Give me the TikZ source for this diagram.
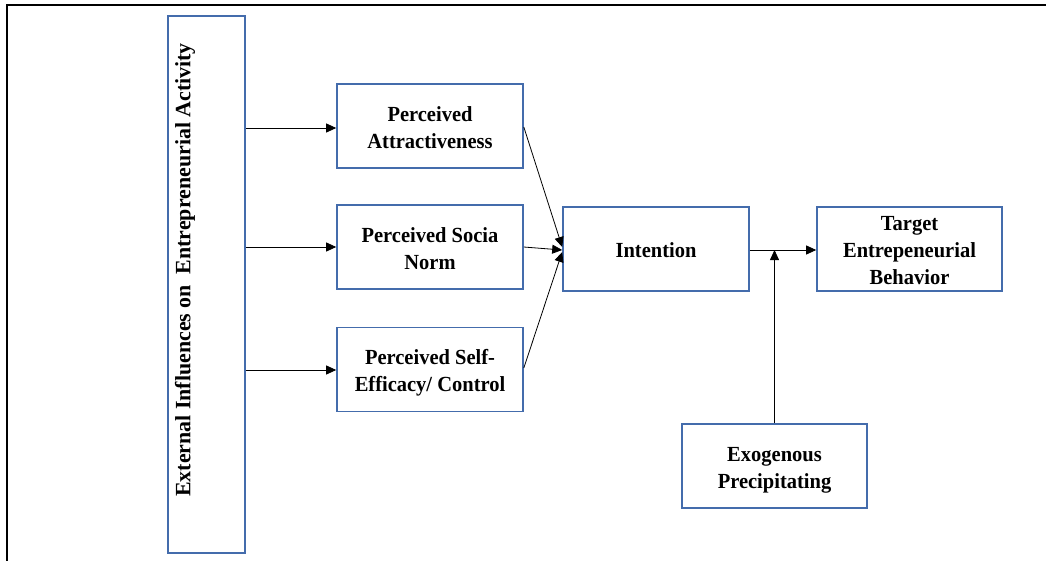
\documentclass[tikz,border=0pt]{standalone}
\usepackage{fontspec}
\usepackage{graphicx}
\setmainfont{Liberation Serif}
\usetikzlibrary{arrows.meta}
\definecolor{boxblue}{RGB}{68,108,172}
% box labels: bold serif, lines centred, slightly tall glyphs, set a little low
\newcommand{\boxtext}[1]{\raisebox{-3.5pt}[\height][\depth]{\scalebox{1}[1.05]{\begin{tabular}{@{}c@{}}#1\end{tabular}}}}
\begin{document}
\begin{tikzpicture}[x=1pt,y=-1pt,
  every node/.style={font=\fontsize{20.5}{25.7}\selectfont\bfseries},
  stepbox/.style={draw=boxblue,line width=1.6pt,fill=white,align=center,
    inner sep=0pt,minimum width=186pt,minimum height=84pt},
  arr/.style={-{Triangle[length=10pt,width=9pt]},line width=0.8pt}]
\renewcommand{\arraystretch}{1}
\useasboundingbox (0,0) rectangle (1046,560);
% outer frame (top and left edges)
\draw[line width=2pt] (7,562) -- (7,5) -- (1048,5);

% left column box with rotated title
\node[draw=boxblue,line width=1.6pt,minimum width=77pt,minimum height=537pt,inner sep=0pt]
  (ext) at (206.5,284.5) {};
\node[rotate=90,inner sep=0pt,font=\fontsize{21.9}{26}\selectfont\bfseries]
  (exttxt) at (185,270) {External Influences on\ \ Entrepreneurial Activity};

% perception boxes
\node[stepbox] (pa) at (430,126) {\boxtext{Perceived\\Attractiveness}};
\node[stepbox] (ps) at (430,247) {\boxtext{Perceived Socia\\Norm}};
\node[stepbox] (pe) at (430,369.5) {\boxtext{Perceived Self-\\Efficacy/ Control}};

% outcome boxes
\node[stepbox] (int) at (656,249) {\boxtext{Intention}};
\node[stepbox,minimum width=185pt] (tgt) at (909.5,249) {\boxtext{Target\\Entrepeneurial\\Behavior}};
\node[stepbox,minimum width=185pt] (exo) at (774.5,466) {\boxtext{Exogenous\\Precipitating}};

% connectors
\draw[arr] (ext.east |- 0,128) -- (pa.west |- 0,128);
\draw[arr] (ext.east |- ps.west) -- (ps.west);
\draw[arr] (ext.east |- 0,370) -- (pe.west |- 0,370);

\draw[arr] (pa.east |- 0,127) -- ([yshift=2pt]int.west);
\draw[arr] (ps.east) -- ([yshift=-1pt]int.west);
\draw[arr] (pe.east |- 0,368) -- ([yshift=-3pt]int.west);

\draw[arr] (int.east |- 0,250) -- (tgt.west |- 0,250);
\coordinate (join) at (exo.north |- 0,250);
\draw[arr] (exo.north) -- (join);
\end{tikzpicture}
\end{document}
